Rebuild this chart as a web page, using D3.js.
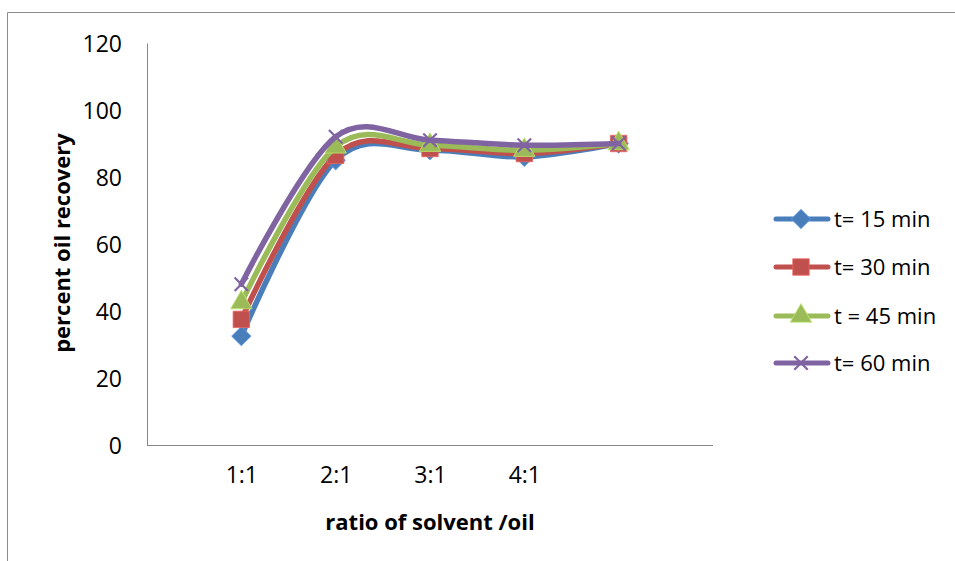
<!DOCTYPE html>
<html>
<head>
<meta charset="utf-8">
<script src="https://cdn.jsdelivr.net/npm/d3@7"></script>
<style>
  html, body { margin: 0; padding: 0; background: #fff; }
  svg { display: block; font-family: "Open Sans", "Noto Sans", sans-serif; }
</style>
</head>
<body>
<svg id="chart" width="955" height="561"></svg>
<script>
// Solvent-to-oil ratios (the fifth point carries no category label)
const categories = ["1:1", "2:1", "3:1", "4:1", ""];
const tickLabels = ["1:1", "2:1", "3:1", "4:1"];
const yTicks = [0, 20, 40, 60, 80, 100, 120];

// Percent oil recovery per extraction time
const t15 = [32.5, 85, 88, 86, 90];
const t30 = [37.5, 86.5, 88.5, 87, 90];
const t45 = [42.5, 89, 89.5, 88, 90];
const t60 = [48, 92, 91, 89.5, 90];

const seriesNames = ["t= 15 min", "t= 30 min", "t = 45 min", "t= 60 min"];
const seriesColors = ["#4A7EBB", "#C0504D", "#9BBB59", "#8064A2"];
const seriesData = [t15, t30, t45, t60];

const svg = d3.select("#chart");

// outer frame of the chart area
svg.append("path")
  .attr("d", "M7.5,561 V12.5 H955")
  .attr("fill", "none")
  .attr("stroke", "#8c8c8c")
  .attr("stroke-width", 1);

const plot = { left: 147, right: 713, top: 43, bottom: 445 };

const x = d3.scalePoint()
  .domain(d3.range(categories.length))
  .range([plot.left, plot.right])
  .padding(1);

const y = d3.scaleLinear()
  .domain([0, 120])
  .range([plot.bottom, plot.top]);

// y axis
const yAxis = svg.append("g")
  .attr("transform", `translate(${plot.left},0)`)
  .call(d3.axisLeft(y).tickValues(yTicks).tickSize(0).tickPadding(25));
yAxis.select(".domain").attr("stroke", "#868686").attr("stroke-width", 1);
yAxis.selectAll("text")
  .attr("font-family", "Open Sans, sans-serif")
  .attr("font-size", 23)
  .attr("fill", "#000")
  .attr("dy", "0.35em");

// x axis
const xAxis = svg.append("g")
  .attr("transform", `translate(0,${plot.bottom})`)
  .call(d3.axisBottom(x)
    .tickValues(d3.range(tickLabels.length))
    .tickFormat(i => tickLabels[i])
    .tickSize(0)
    .tickPadding(22));
xAxis.select(".domain")
  .attr("d", `M${plot.left},0.5H${plot.right}`)
  .attr("stroke", "#868686").attr("stroke-width", 1);
xAxis.selectAll("text")
  .attr("font-family", "Open Sans, sans-serif")
  .attr("font-size", 23)
  .attr("fill", "#000");

// axis titles
svg.append("text")
  .attr("transform", "translate(70,243) rotate(-90)")
  .attr("text-anchor", "middle")
  .attr("font-size", 22)
  .attr("font-weight", "bold")
  .text("percent oil recovery");

svg.append("text")
  .attr("x", 430)
  .attr("y", 530)
  .attr("text-anchor", "middle")
  .attr("font-size", 22)
  .attr("font-weight", "bold")
  .text("ratio of solvent /oil");

// marker shapes per series
const markers = [
  { type: d3.symbolDiamond2, size: 240, stroke: false },
  { type: d3.symbolSquare, size: 270, stroke: false },
  { type: d3.symbolTriangle, size: 200, stroke: false },
  { type: d3.symbolX, size: 120, stroke: true }
];

const line = d3.line()
  .x((d, i) => x(i))
  .y(d => y(d))
  .curve(d3.curveCardinal.tension(0));

function drawMarker(g, m, color, px, py) {
  const p = g.append("path")
    .attr("d", d3.symbol().type(m.type).size(m.size)())
    .attr("transform", `translate(${px},${py})`);
  if (m.stroke) {
    p.attr("fill", "none").attr("stroke", color).attr("stroke-width", 2.2);
  } else {
    p.attr("fill", color).attr("stroke", d3.color(color).brighter(0.6)).attr("stroke-width", 0.8);
  }
}

seriesData.forEach((vals, s) => {
  const g = svg.append("g");
  g.append("path")
    .datum(vals)
    .attr("d", line)
    .attr("fill", "none")
    .attr("stroke", seriesColors[s])
    .attr("stroke-width", 5.5)
    .attr("stroke-linecap", "round");
  vals.forEach((v, i) => drawMarker(g, markers[s], seriesColors[s], x(i), y(v)));
});

// legend
const legendY = [219, 267, 316, 363];
seriesNames.forEach((name, s) => {
  const g = svg.append("g").attr("transform", `translate(0,${legendY[s]})`);
  g.append("line")
    .attr("x1", 776).attr("x2", 828)
    .attr("y1", 0).attr("y2", 0)
    .attr("stroke", seriesColors[s])
    .attr("stroke-width", 5)
    .attr("stroke-linecap", "round");
  drawMarker(g, markers[s], seriesColors[s], 801, 0);
  g.append("text")
    .attr("x", 834)
    .attr("y", 0)
    .attr("dy", "0.35em")
    .attr("font-size", 22)
    .attr("fill", "#000")
    .text(name);
});
</script>
</body>
</html>
